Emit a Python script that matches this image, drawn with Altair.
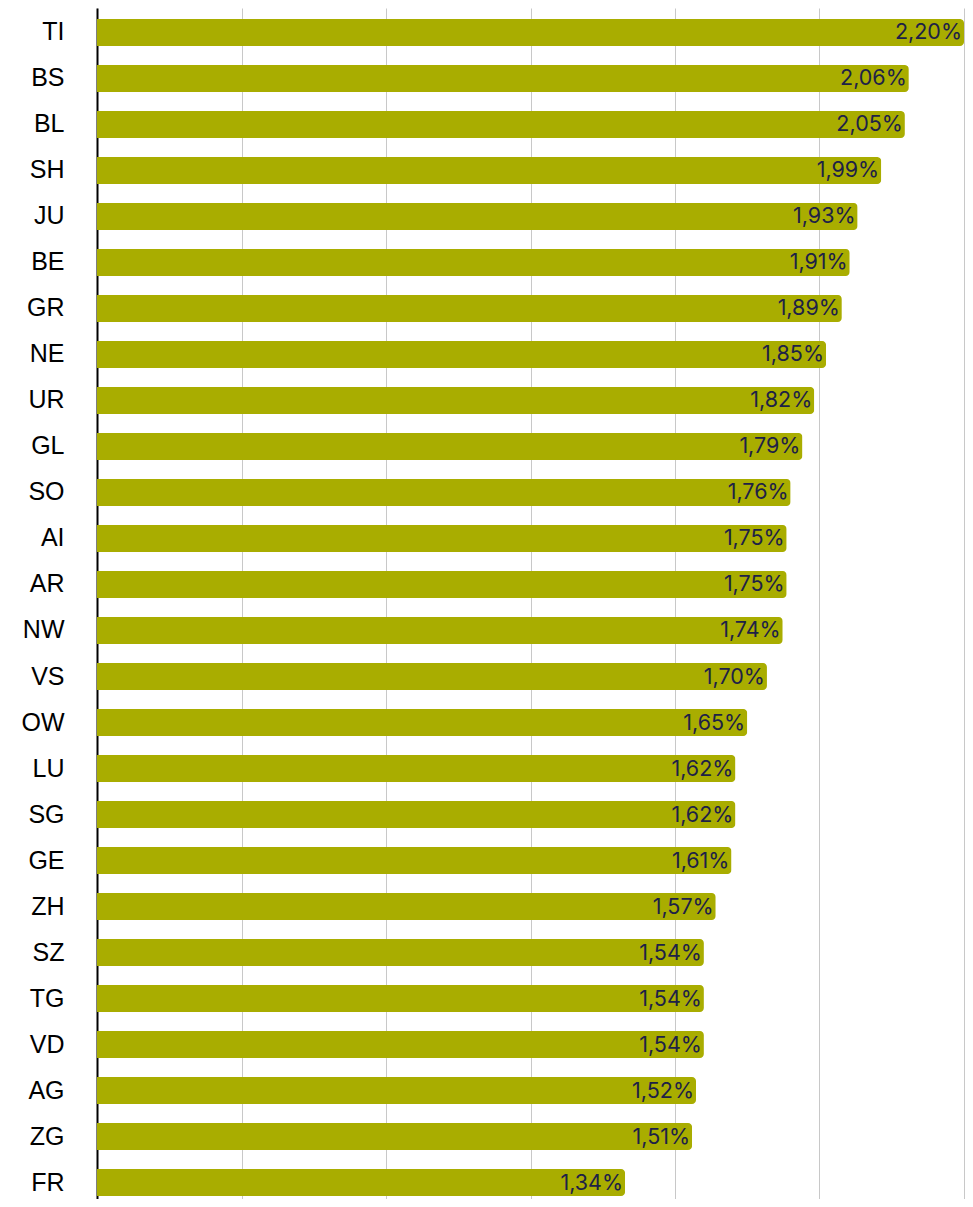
import altair as alt
import pandas as pd

cantons = ["TI", "BS", "BL", "SH", "JU", "BE", "GR", "NE", "UR", "GL", "SO", "AI", "AR",
           "NW", "VS", "OW", "LU", "SG", "GE", "ZH", "SZ", "TG", "VD", "AG", "ZG", "FR"]
values = [2.20, 2.06, 2.05, 1.99, 1.93, 1.91, 1.89, 1.85, 1.82, 1.79, 1.76, 1.75, 1.75,
          1.74, 1.70, 1.65, 1.62, 1.62, 1.61, 1.57, 1.54, 1.54, 1.54, 1.52, 1.51, 1.34]

df = pd.DataFrame({"canton": cantons, "value": values})

x_max = 2.2
grid_vals = [x_max * k / 6 for k in range(7)]

x_enc = alt.X("value:Q", scale=alt.Scale(domain=[0, x_max], nice=False, zero=True),
              axis=alt.Axis(values=grid_vals, grid=True, labels=False, ticks=False,
                            domain=False, title=None, gridColor="#c8c8c8", gridWidth=1))
y_enc = alt.Y("canton:N", sort=cantons,
              scale=alt.Scale(paddingInner=0.413, paddingOuter=0.152, align=0.786),
              axis=alt.Axis(title=None, ticks=False, labelFont="Liberation Sans",
                            labelFontSize=25, labelColor="#000000", labelPadding=33,
                            domainColor="#000000", domainWidth=2))

bars = alt.Chart(df).mark_bar(color="#a9ad00", cornerRadiusEnd=4).encode(x=x_enc, y=y_enc)

labels = alt.Chart(df).transform_calculate(
    lab="replace(format(datum.value, '.2f'), '.', ',') + '%'"
).mark_text(align="right", baseline="middle", dx=-2, dy=1, font="Inter", fontSize=21.5,
            color="#1d2147").encode(
    x=alt.X("value:Q"), y=alt.Y("canton:N", sort=cantons), text="lab:N")

chart = alt.layer(bars, labels).properties(
    width=867, height=1191,
    autosize=alt.AutoSizeParams(type="none"),
    padding={"left": 89, "top": 0, "right": 1, "bottom": 0},
).configure_view(stroke=None)

chart.save("out.html", embed_options={"renderer": "svg", "actions": False})
